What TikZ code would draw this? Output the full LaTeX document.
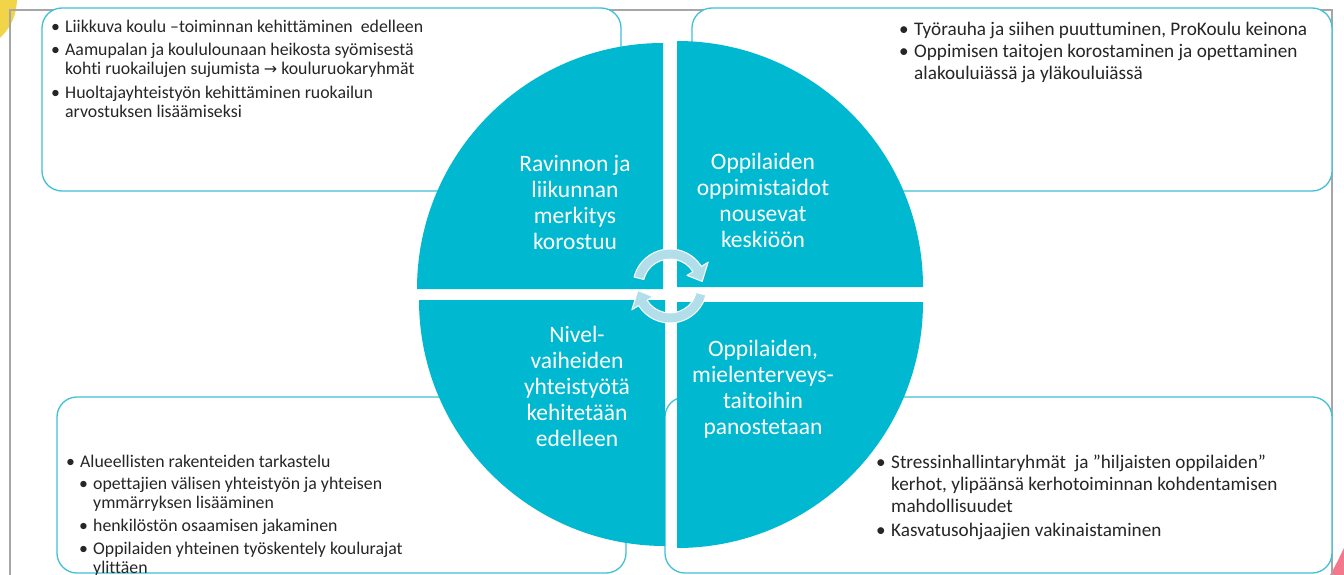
\documentclass[tikz,border=0pt]{standalone}
\usepackage{fontspec}
\setmainfont{Carlito}[Ligatures=NoCommon]
\newfontfamily\dejavu{DejaVu Sans}
\usetikzlibrary{calc}
\definecolor{quadc}{RGB}{0,185,208}
\definecolor{boxline}{RGB}{64,193,214}
\definecolor{slidegray}{RGB}{166,166,166}
\definecolor{arrowfill}{RGB}{178,222,233}
\definecolor{txt}{RGB}{38,38,38}
\definecolor{yel}{RGB}{242,212,72}
\definecolor{pinkc}{RGB}{244,120,140}
\newcommand{\bi}[2]{\begin{tabular}[t]{@{}p{#1}@{}l@{}}\textbullet&#2\end{tabular}}
\begin{document}
\begin{tikzpicture}[x=1pt,y=-1pt,
  infobox/.style={draw=boxline, line width=1.3pt, fill=white, rounded corners=20pt, inner sep=0pt},
  quad/.style={fill=quadc},
  quadtext/.style={text=white, align=center, inner sep=0pt, font=\fontsize{23.5}{26}\selectfont},
  bul/.style={anchor=base west, inner sep=0pt, text=txt, font=\fontsize{17.8}{19}\selectfont},
  bulb/.style={bul, font=\fontsize{19.2}{22}\selectfont},
  cyc/.style={fill=arrowfill, draw=white, line width=1pt, line join=round}]
\useasboundingbox (0,0) rectangle (1344,575);
\clip (0,0) rectangle (1344,575);
% slide decorations
\fill[yel] (0,0) -- (17,0) .. controls (16,20) and (8,30) .. (0,38) -- cycle;
\fill[pinkc] (1330,575) .. controls (1336,565) and (1340,556) .. (1344,548) -- (1344,575) -- cycle;
\draw[slidegray, line width=1.3pt] (10,580) -- (10,10) -- (1332,10) -- (1332,580);
% boxes
\node[infobox, minimum width=579pt, minimum height=183pt] (tlbox) at (331.5,99.5) {};
\node[infobox, minimum width=640pt, minimum height=183pt] (trbox) at (1012,99.5) {};
\node[infobox, minimum width=569pt, minimum height=176pt] (blbox) at (341.5,485) {};
\node[infobox, minimum width=667pt, minimum height=176pt] (brbox) at (998.5,485) {};
% quadrants
\fill[quad] (663,289) -- (417,289) arc[start angle=180, end angle=270, radius=246] -- cycle;
\fill[quad] (677,287) -- (677,41) arc[start angle=270, end angle=360, radius=246] -- cycle;
\fill[quad] (677,302) -- (923,302) arc[start angle=0, end angle=90, radius=246] -- cycle;
\fill[quad] (665,300) -- (665,546) arc[start angle=90, end angle=180, radius=246] -- cycle;
% cycle arrows
\coordinate (c1) at (670,286);
\path[cyc] ($(c1)+(194:37)$) arc[start angle=194, end angle=328, radius=37]
  -- ($(c1)+(328:45)$) -- ($(c1)+(352:32.5)$) -- ($(c1)+(328:20)$) -- ($(c1)+(328:27)$)
  arc[start angle=328, end angle=194, radius=27] -- cycle;
\begin{scope}[rotate around={180:(670,291)}]
\path[cyc] ($(c1)+(194:37)$) arc[start angle=194, end angle=328, radius=37]
  -- ($(c1)+(328:45)$) -- ($(c1)+(352:32.5)$) -- ($(c1)+(328:20)$) -- ($(c1)+(328:27)$)
  arc[start angle=328, end angle=194, radius=27] -- cycle;
\end{scope}
% quadrant texts
\node[quadtext] (tlq) at (575,202.5) {Ravinnon ja\\liikunnan\\merkitys\\korostuu};
\node[quadtext] (trq) at (763,200.5) {Oppilaiden\\oppimistaidot\\nousevat\\keskiöön};
\node[quadtext] (blq) at (577,386.5) {Nivel-\\vaiheiden\\yhteistyötä\\kehitetään\\edelleen};
\node[quadtext] (brq) at (763,389) {Oppilaiden,\\mielenterveys-\\taitoihin\\panostetaan};
% bullet texts
\node[bul] (tl1) at (51,33) {\bi{14pt}{Liikkuva koulu –toiminnan kehittäminen\ \ edelleen}};
\node[bul] (tl2) at (51,56) {\bi{14pt}{Aamupalan ja koululounaan heikosta syömisestä\\ & kohti ruokailujen sujumista {\dejavu\fontsize{16}{19}\selectfont →} kouluruokaryhmät}};
\node[bul] (tl3) at (51,99) {\bi{14pt}{Huoltajayhteistyön kehittäminen ruokailun\\ & arvostuksen lisäämiseksi}};
\node[bulb] (tr1) at (899,36) {\bi{15pt}{Työrauha ja siihen puuttuminen, ProKoulu keinona}};
\node[bulb] (tr2) at (899,58) {\bi{15pt}{Oppimisen taitojen korostaminen ja opettaminen\\ & alakouluiässä ja yläkouluiässä}};
\node[bul] (bl1) at (66,467) {\bi{14pt}{Alueellisten rakenteiden tarkastelu}};
\node[bul] (bl2) at (79,489) {\bi{14pt}{opettajien välisen yhteistyön ja yhteisen\\ & ymmärryksen lisääminen}};
\node[bul] (bl3) at (79,531) {\bi{14pt}{henkilöstön osaamisen jakaminen}};
\node[bul] (bl4) at (79,554) {\bi{14pt}{Oppilaiden yhteinen työskentely koulurajat\\ & ylittäen}};
\node[bulb] (br1) at (876,468) {\bi{15pt}{Stressinhallintaryhmät\ \ ja ”hiljaisten oppilaiden”\\ & kerhot, ylipäänsä kerhotoiminnan kohdentamisen\\ & mahdollisuudet}};
\node[bulb] (br2) at (876,536) {\bi{15pt}{Kasvatusohjaajien vakinaistaminen}};
\end{tikzpicture}
\end{document}
